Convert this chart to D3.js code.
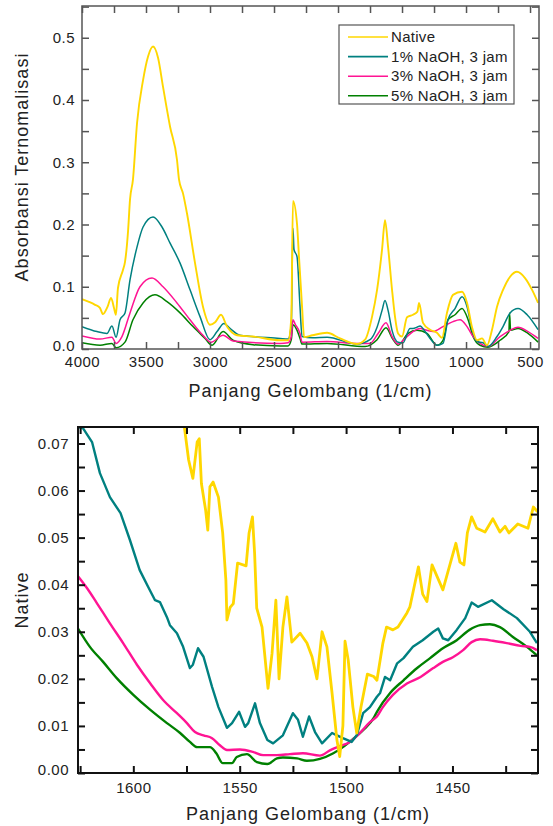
<!DOCTYPE html>
<html>
<head>
<meta charset="utf-8">
<script src="https://cdn.jsdelivr.net/npm/d3@7"></script>
<style>
  body { margin: 0; background: #fff; }
  svg text { font-family: "Liberation Sans", Arial, sans-serif; fill: #222; }
</style>
</head>
<body>
<div id="chart"></div>
<script>
// ---- data: [wavenumber, absorbance] ----
var seriesNames = ["Native", "1% NaOH, 3 jam", "3% NaOH, 3 jam", "5% NaOH, 3 jam"];
var seriesColors = ["#FFD700", "#008080", "#FF1493", "#008000"];

var topNative = [[4000,0.080],[3950,0.076],[3898,0.071],[3860,0.066],[3836,0.056],[3800,0.068],[3773,0.082],[3750,0.066],[3735,0.055],[3719,0.098],[3680,0.127],[3664,0.14],[3640,0.19],[3625,0.24],[3602,0.272],[3570,0.363],[3523,0.432],[3484,0.47],[3445,0.486],[3406,0.468],[3367,0.421],[3312,0.357],[3258,0.304],[3242,0.272],[3211,0.25],[3180,0.218],[3117,0.138],[3055,0.068],[3000,0.039],[2960,0.043],[2914,0.055],[2867,0.036],[2789,0.022],[2664,0.020],[2453,0.014],[2390,0.014],[2365,0.05],[2352,0.238],[2320,0.20],[2305,0.148],[2281,0.068],[2265,0.019],[2200,0.022],[2086,0.026],[1984,0.017],[1852,0.008],[1789,0.015],[1734,0.052],[1695,0.095],[1656,0.16],[1633,0.207],[1609,0.164],[1578,0.095],[1555,0.052],[1531,0.025],[1500,0.02],[1461,0.051],[1414,0.055],[1380,0.06],[1367,0.074],[1336,0.042],[1281,0.031],[1227,0.026],[1188,0.018],[1149,0.058],[1102,0.087],[1031,0.092],[992,0.074],[953,0.035],[914,0.014],[875,0.017],[836,0.006],[797,0.031],[758,0.068],[711,0.095],[656,0.116],[602,0.124],[539,0.114],[484,0.095],[437,0.074]];
var topNaoh1 = [[4000,0.036],[3883,0.028],[3805,0.025],[3766,0.037],[3734,0.019],[3703,0.047],[3664,0.058],[3625,0.111],[3570,0.164],[3523,0.196],[3445,0.212],[3375,0.196],[3312,0.17],[3234,0.138],[3156,0.095],[3078,0.052],[3000,0.015],[2945,0.028],[2891,0.041],[2844,0.033],[2766,0.022],[2453,0.017],[2390,0.016],[2365,0.04],[2352,0.194],[2344,0.16],[2320,0.148],[2297,0.068],[2281,0.02],[2200,0.018],[2086,0.019],[1852,0.008],[1750,0.015],[1695,0.035],[1656,0.062],[1633,0.078],[1609,0.062],[1578,0.03],[1531,0.011],[1492,0.01],[1438,0.033],[1414,0.033],[1383,0.035],[1359,0.037],[1320,0.028],[1281,0.017],[1227,0.006],[1180,0.009],[1141,0.047],[1086,0.065],[1031,0.084],[992,0.068],[953,0.031],[914,0.012],[867,0.01],[828,0.004],[758,0.020],[711,0.036],[656,0.058],[594,0.065],[523,0.055],[437,0.031]];
var topNaoh3 = [[4000,0.021],[3859,0.016],[3766,0.019],[3734,0.009],[3688,0.02],[3625,0.058],[3547,0.10],[3453,0.114],[3367,0.10],[3258,0.074],[3156,0.047],[3055,0.022],[2992,0.011],[2898,0.022],[2820,0.013],[2453,0.009],[2390,0.01],[2365,0.02],[2352,0.047],[2335,0.04],[2297,0.025],[2281,0.011],[2086,0.012],[1852,0.009],[1750,0.009],[1687,0.025],[1625,0.042],[1578,0.02],[1531,0.008],[1461,0.02],[1414,0.028],[1359,0.033],[1305,0.03],[1258,0.028],[1180,0.036],[1102,0.044],[1047,0.047],[992,0.036],[945,0.020],[891,0.009],[828,0.004],[734,0.020],[656,0.030],[594,0.035],[516,0.028],[437,0.017]];
var topNaoh5 = [[4000,0.01],[3859,0.006],[3766,0.009],[3734,0.002],[3664,0.011],[3602,0.047],[3523,0.074],[3430,0.087],[3336,0.076],[3234,0.058],[3133,0.036],[3039,0.017],[2984,0.006],[2898,0.028],[2820,0.014],[2664,0.007],[2453,0.005],[2390,0.005],[2365,0.015],[2352,0.039],[2320,0.03],[2297,0.017],[2281,0.008],[2086,0.009],[1789,0.004],[1695,0.015],[1625,0.034],[1570,0.015],[1531,0.006],[1453,0.025],[1383,0.03],[1305,0.025],[1227,0.006],[1180,0.014],[1141,0.047],[1086,0.055],[1031,0.065],[984,0.047],[945,0.020],[891,0.006],[828,0.003],[734,0.014],[665,0.028],[660,0.058],[652,0.03],[594,0.033],[516,0.025],[437,0.011]];

var botNative = [[1576,0.0735],[1574,0.0665],[1572,0.0626],[1570,0.0703],[1569,0.071],[1568,0.0615],[1566,0.0558],[1565,0.0516],[1564,0.0608],[1562.5,0.0618],[1560,0.0586],[1558,0.051],[1556.5,0.041],[1556,0.0325],[1554.5,0.0352],[1553,0.036],[1551,0.0446],[1547,0.044],[1545.6,0.051],[1544,0.0544],[1543,0.0467],[1542,0.035],[1539.5,0.031],[1536.7,0.018],[1534.8,0.0254],[1533,0.0367],[1531.5,0.020],[1529.7,0.031],[1527.8,0.0374],[1525.5,0.0278],[1521.6,0.0297],[1518.4,0.0276],[1516,0.0247],[1513.7,0.020],[1511.3,0.030],[1509,0.0268],[1506.6,0.017],[1504.3,0.007],[1503,0.0035],[1501.5,0.01],[1500.5,0.028],[1499,0.024],[1496.8,0.014],[1495,0.0085],[1493,0.014],[1490,0.021],[1487,0.0205],[1485.5,0.0197],[1482.7,0.0276],[1481,0.031],[1478,0.0304],[1475.6,0.031],[1471.4,0.034],[1470,0.0353],[1466,0.0438],[1464,0.038],[1462,0.0364],[1459.6,0.0442],[1454.5,0.0389],[1451,0.0446],[1448.4,0.0488],[1446.5,0.0448],[1444.6,0.0442],[1443,0.051],[1441,0.0544],[1438.6,0.052],[1434.7,0.0512],[1431,0.054],[1427.7,0.0512],[1425.3,0.0524],[1423.5,0.051],[1419.3,0.0529],[1414.5,0.052],[1412,0.0565],[1410,0.0555]];
var botNaoh1 = [[1626,0.0735],[1623.6,0.0732],[1619.4,0.0703],[1615.7,0.0637],[1611,0.0586],[1606,0.0552],[1601.6,0.0495],[1597,0.0431],[1593,0.0395],[1589.8,0.0367],[1587.5,0.0363],[1584.2,0.0331],[1582.8,0.0314],[1579.5,0.0297],[1576.6,0.0268],[1573.4,0.0223],[1572,0.023],[1569.6,0.0265],[1567,0.0247],[1563,0.0183],[1560,0.014],[1556,0.0096],[1553.6,0.0106],[1550.3,0.013],[1547.5,0.0098],[1546,0.0106],[1542.8,0.0148],[1540.5,0.0106],[1537,0.007],[1534.3,0.0063],[1529.7,0.008],[1525,0.0127],[1522.6,0.0113],[1520.3,0.0077],[1517.4,0.012],[1514.6,0.0087],[1511.3,0.0063],[1506.6,0.0085],[1504.3,0.008],[1501.5,0.0074],[1497.4,0.0066],[1495,0.008],[1492,0.0127],[1488.8,0.014],[1485.5,0.0162],[1484,0.017],[1481.7,0.0204],[1479.3,0.0197],[1476,0.0233],[1473,0.0244],[1468.6,0.0268],[1464,0.0282],[1459,0.030],[1456.7,0.0307],[1454.5,0.0286],[1452,0.0282],[1448,0.0304],[1444,0.0329],[1441,0.0362],[1438,0.0353],[1431.5,0.0367],[1426,0.0348],[1419.7,0.0329],[1413.6,0.030],[1410.3,0.0276]];
var botNaoh3 = [[1626,0.0418],[1621.8,0.0393],[1617,0.036],[1611,0.0318],[1604.8,0.0276],[1598.3,0.023],[1592,0.019],[1586,0.0155],[1579.5,0.0127],[1574.8,0.0106],[1571,0.0087],[1567,0.008],[1563,0.0074],[1559.3,0.0059],[1556,0.0049],[1549.9,0.005],[1543.8,0.0045],[1539,0.0038],[1532.5,0.0038],[1526.4,0.004],[1520.3,0.0042],[1512.3,0.0037],[1507.6,0.0048],[1503,0.0057],[1498.2,0.0066],[1493.5,0.0085],[1488.8,0.0108],[1485.5,0.012],[1482.7,0.014],[1478,0.0166],[1471.4,0.019],[1465,0.0204],[1459,0.0223],[1454.5,0.0236],[1449.8,0.0246],[1445,0.0261],[1441,0.0278],[1437,0.0284],[1431,0.0281],[1424.5,0.0276],[1418,0.027],[1413.6,0.0268],[1410.3,0.0261]];
var botNaoh5 = [[1626,0.0307],[1620.4,0.0268],[1614.2,0.0236],[1607.7,0.0201],[1600,0.0166],[1592,0.0134],[1584.2,0.0106],[1578,0.0085],[1573.4,0.0066],[1570,0.0055],[1564,0.0055],[1561,0.0042],[1558,0.0021],[1553.6,0.0021],[1551.4,0.0034],[1546.6,0.004],[1541.9,0.0023],[1537,0.0019],[1532.5,0.0031],[1529.7,0.0033],[1523,0.0031],[1518.4,0.0026],[1512.3,0.003],[1506,0.0042],[1501.5,0.0055],[1496.8,0.0072],[1492,0.0091],[1487,0.0117],[1485.5,0.013],[1479.3,0.017],[1473,0.0197],[1466.6,0.0223],[1460.5,0.0244],[1454.5,0.0265],[1448,0.0282],[1442,0.0304],[1437,0.0314],[1432.4,0.0316],[1427.7,0.031],[1421.6,0.0289],[1415,0.0268],[1410.3,0.025]];

var topXTicks = d3.range(500, 4001, 250);
var topYTicks = d3.range(0, 0.551, 0.05);
var botXTicks = d3.range(1425, 1626, 25);
var botYTicks = d3.range(0, 0.0726, 0.005);

var svg = d3.select("#chart").append("svg")
  .attr("width", 553)
  .attr("height", 826);

function drawPanel(opt) {
  var x = d3.scaleLinear().domain(opt.xDomain).range([opt.left, opt.right]);
  var y = d3.scaleLinear().domain(opt.yDomain).range([opt.bottom, opt.top]);
  var g = svg.append("g");

  g.append("clipPath").attr("id", opt.id)
    .append("rect")
    .attr("x", opt.left).attr("y", opt.top)
    .attr("width", opt.right - opt.left).attr("height", opt.bottom - opt.top);

  var lines = g.append("g").attr("clip-path", "url(#" + opt.id + ")");
  // last series first so the native trace sits on top
  for (var i = opt.series.length - 1; i >= 0; i--) {
    var line = d3.line()
      .x(d => x(d[0]))
      .y(d => y(d[1]))
      .curve(opt.curves[i]);
    lines.append("path")
      .datum(opt.series[i])
      .attr("fill", "none")
      .attr("stroke", seriesColors[i])
      .attr("stroke-width", i == 0 ? opt.lw + 0.4 : opt.lw)
      .attr("stroke-linejoin", "round")
      .attr("d", line);
  }

  var xFmt = d => (d % opt.xLabelEvery === 0) ? d : "";
  var yFmt = d => Math.abs(Math.round(d / opt.yLabelEvery) * opt.yLabelEvery - d) < 1e-9 ? d3.format(opt.yFormat)(d) : "";

  var axes = [
    g.append("g").attr("transform", `translate(0,${opt.bottom})`)
      .call(d3.axisBottom(x).tickValues(opt.xTicks).tickSize(-opt.tick).tickPadding(opt.xPad).tickFormat(xFmt)),
    g.append("g").attr("transform", `translate(0,${opt.top})`)
      .call(d3.axisTop(x).tickValues(opt.xTicks).tickSize(-opt.tick).tickFormat("")),
    g.append("g").attr("transform", `translate(${opt.left},0)`)
      .call(d3.axisLeft(y).tickValues(opt.yTicks).tickSize(-opt.tick).tickPadding(opt.yPad).tickFormat(yFmt)),
    g.append("g").attr("transform", `translate(${opt.right},0)`)
      .call(d3.axisRight(y).tickValues(opt.yTicks).tickSize(-opt.tick).tickFormat(""))
  ];
  axes.forEach(function(a) {
    a.select(".domain").remove();
    a.selectAll("line").attr("stroke", opt.frame).attr("stroke-width", opt.fw);
    a.selectAll("text")
      .style("font-size", "15px")
      .style("letter-spacing", "0.5px")
      .style("fill", "#222");
  });
  // lift the zero label a little so it clears the first x label
  axes[2].selectAll("text").filter(d => d === 0).attr("dy", opt.zeroDy);

  g.append("rect")
    .attr("x", opt.left).attr("y", opt.top)
    .attr("width", opt.right - opt.left).attr("height", opt.bottom - opt.top)
    .attr("fill", "none")
    .attr("stroke", opt.frame)
    .attr("stroke-width", opt.fw);

  g.append("text")
    .attr("x", (opt.left + opt.right) / 2)
    .attr("y", opt.xTitleY)
    .attr("text-anchor", "middle")
    .style("font-size", "18px")
    .style("letter-spacing", "1px")
    .text("Panjang Gelombang (1/cm)");

  g.append("text")
    .attr("transform", `translate(28,${opt.yTitleY}) rotate(-90)`)
    .attr("text-anchor", "middle")
    .style("font-size", "18px")
    .style("letter-spacing", "1px")
    .text(opt.yTitle);

  return g;
}

var smooth = d3.curveMonotoneX;
var sharp = d3.curveLinear;

var topPanel = drawPanel({
  id: "clipTop", left: 82, right: 539, top: 6, bottom: 349,
  xDomain: [4000, 430], yDomain: [0, 0.551],
  xTicks: topXTicks, yTicks: topYTicks, xLabelEvery: 500, yLabelEvery: 0.1, yFormat: ".1f",
  series: [topNative, topNaoh1, topNaoh3, topNaoh5],
  curves: [smooth, smooth, smooth, smooth],
  lw: 1.5, frame: "#555", fw: 1.5, tick: 7, xPad: 7, yPad: 7, zeroDy: "0.1em",
  xTitleY: 397, yTitle: "Absorbansi Ternomalisasi", yTitleY: 167
});

drawPanel({
  id: "clipBot", left: 78, right: 538, top: 427, bottom: 773,
  xDomain: [1626, 1409.8], yDomain: [0, 0.0735],
  xTicks: botXTicks, yTicks: botYTicks, xLabelEvery: 50, yLabelEvery: 0.01, yFormat: ".2f",
  series: [botNative, botNaoh1, botNaoh3, botNaoh5],
  curves: [sharp, sharp, smooth, smooth],
  lw: 2.4, frame: "#111", fw: 2, tick: 7, xPad: 9, yPad: 9, zeroDy: "0.1em",
  xTitleY: 820, yTitle: "Native", yTitleY: 600
});

// legend in the upper panel
var legend = topPanel.append("g");
legend.append("rect")
  .attr("x", 339).attr("y", 25)
  .attr("width", 175).attr("height", 79)
  .attr("fill", "#fff")
  .attr("stroke", "#555")
  .attr("stroke-width", 1.2);

var items = legend.selectAll("g.item")
  .data(seriesNames)
  .enter()
  .append("g")
  .attr("transform", (d, i) => `translate(0,${37 + i * 19.6})`);
items.append("line")
  .attr("x1", 348).attr("x2", 388)
  .attr("stroke", (d, i) => seriesColors[i])
  .attr("stroke-width", 1.6);
items.append("text")
  .attr("x", 391)
  .attr("y", 5)
  .style("font-size", "15px")
  .style("letter-spacing", "0.3px")
  .text(d => d);
</script>
</body>
</html>
